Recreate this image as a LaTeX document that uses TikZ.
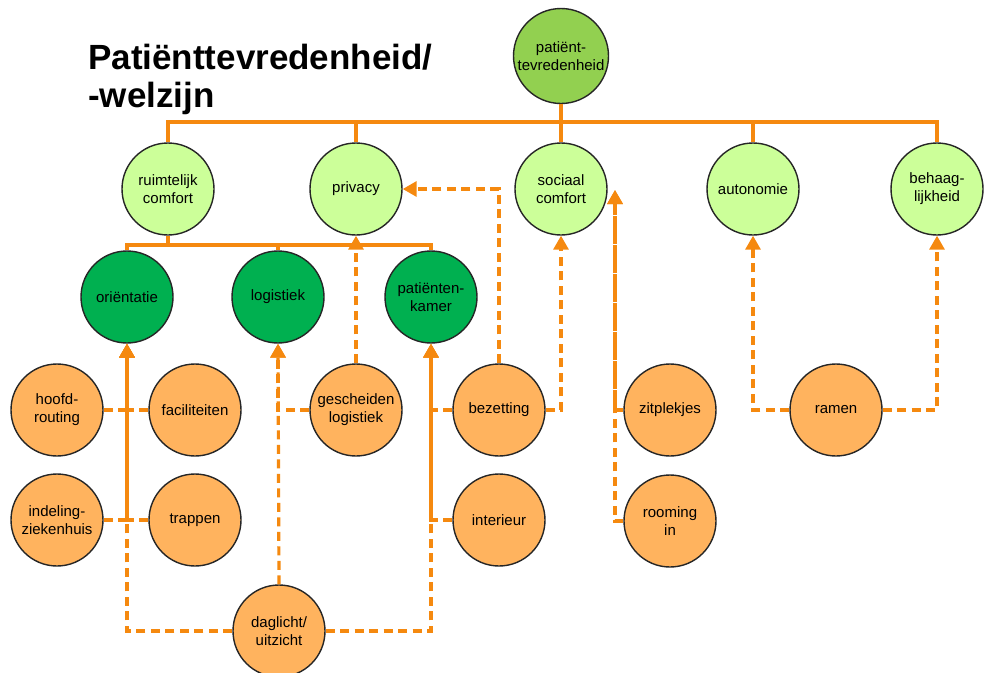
\documentclass[tikz,border=0pt]{standalone}
\usepackage{fontspec}
\setmainfont{Liberation Sans}
\usetikzlibrary{arrows.meta}

\definecolor{lineorange}{HTML}{F5890F}
\definecolor{nodeorange}{HTML}{FFB35E}
\definecolor{lightgreen}{HTML}{CCFF99}
\definecolor{midgreen}{HTML}{92D050}
\definecolor{darkgreen}{HTML}{00B050}

\begin{document}
\begin{tikzpicture}[x=1pt,y=-1pt,
  bubble/.style={circle, draw=black!85, line width=1.4pt, minimum size=92pt,
    inner sep=0pt, align=center, font=\fontsize{15}{18}\selectfont, text=black},
  rootbubble/.style={bubble, fill=midgreen, minimum size=95pt},
  aspect/.style={bubble, fill=lightgreen},
  subaspect/.style={bubble, fill=darkgreen},
  factor/.style={bubble, fill=nodeorange},
  tree/.style={draw=lineorange, line width=3.2pt},
  link/.style={draw=lineorange, line width=3.2pt, dash pattern=on 9pt off 5.5pt},
  linkarrow/.style={link, -{Triangle[width=15pt,length=14pt]}}
]
\useasboundingbox[fill=white] (0,0) rectangle (984,672);

% title
\node[anchor=north west, inner sep=0pt, align=left,
      font=\bfseries\fontsize{35}{38}\selectfont] (title) at (88,44)
  {Patiënttevredenheid/\\-welzijn};

% root and first level
\node[rootbubble] (pt) at (561,56) {patiënt-\\tevredenheid};
\node[aspect] (ruim) at (168,189) {ruimtelijk\\comfort};
\node[aspect] (priv) at (356,189) {privacy};
\node[aspect] (soc)  at (561,189) {sociaal\\comfort};
\node[aspect] (auto) at (753,189) {autonomie};
\node[aspect] (beh)  at (937,189) {behaag-\\lijkheid};

% second level under ruimtelijk comfort
\node[subaspect] (ori) at (127,297) {oriëntatie};
\node[subaspect] (log) at (278,297) {logistiek};
\node[subaspect] (pk)  at (431,297) {patiënten-\\kamer};

% factors
\node[factor] (hoofd) at (57,410)  {hoofd-\\routing};
\node[factor] (fac)   at (195,410) {faciliteiten};
\node[factor] (gesch) at (356,410) {gescheiden\\logistiek};
\node[factor] (bez)   at (499,410) {bezetting};
\node[factor] (zit)   at (670,410) {zitplekjes};
\node[factor] (ram)   at (836,410) {ramen};
\node[factor] (indel) at (57,520)  {indeling-\\ziekenhuis};
\node[factor] (trap)  at (195,520) {trappen};
\node[factor] (inter) at (499,520) {interieur};
\node[factor] (room)  at (670,521) {rooming\\in};
\node[factor] (dag)   at (279,631) {daglicht/\\uitzicht};

% hierarchy (solid)
\coordinate (topbus) at (561,122);
\draw[tree] (pt) -- (topbus);
\draw[tree] (topbus) -| (ruim.north);
\draw[tree] (topbus) -| (priv.north);
\draw[tree] (topbus) -- (soc.north);
\draw[tree] (topbus) -| (auto.north);
\draw[tree] (topbus) -| (beh.north);

\coordinate (rbus) at (168,245);
\draw[tree] (ruim) -- (rbus);
\draw[tree] (rbus) -| (ori.north);
\draw[tree] (rbus) -| (log.north);
\draw[tree] (rbus) -| (pk.north);

% influences (dashed)
\draw[linkarrow] (hoofd.east) -| (ori.south);
\draw[linkarrow] (fac.west)   -| (ori.south);
\draw[linkarrow] (indel.east) -| (ori.south);
\draw[linkarrow] (trap.west)  -| (ori.south);
\draw[linkarrow] (dag.west)   -| (ori.south);

\draw[linkarrow] (dag.north)  -- (log.south);
\draw[linkarrow] (gesch.west) -| (log.south);

\draw[linkarrow] (gesch.north) -- (priv.south);

\draw[linkarrow] (dag.east)   -| (pk.south);
\draw[linkarrow] (bez.west)   -| (pk.south);
\draw[linkarrow] (inter.west) -| (pk.south);

\draw[linkarrow] (bez.north) |- (priv.east);
\draw[linkarrow] (bez.east)  -| (soc.south);

\coordinate (socin) at (615,190);
\draw[linkarrow] (zit.west)  -| (socin);
\draw[linkarrow] (room.west) -| (socin);

\draw[linkarrow] (ram.west) -| (auto.south);
\draw[linkarrow] (ram.east) -| (beh.south);
\end{tikzpicture}
\end{document}
